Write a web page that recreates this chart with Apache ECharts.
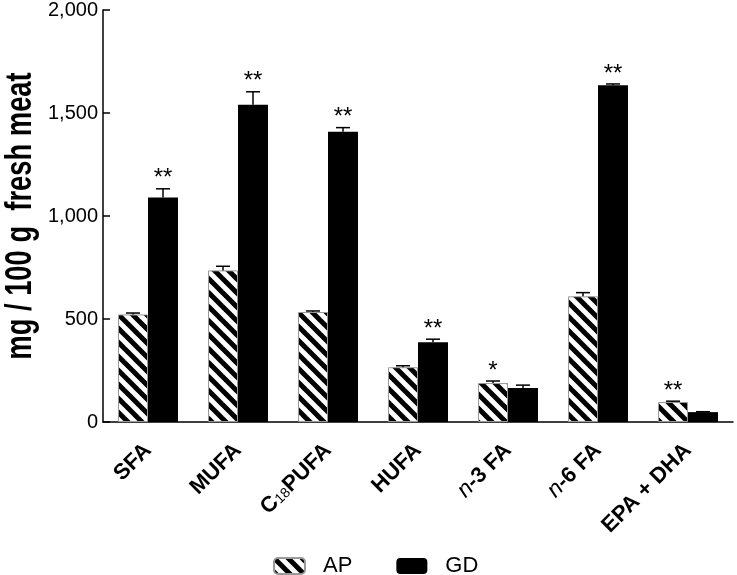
<!DOCTYPE html>
<html>
<head>
<meta charset="utf-8">
<script src="https://cdn.jsdelivr.net/npm/echarts@6/dist/echarts.min.js"></script>
<style>
html,body{margin:0;padding:0;background:#fff;}
#chart{width:737px;height:575px;}
</style>
</head>
<body>
<div id="chart"></div>
<script>
var categories = ['SFA', 'MUFA', 'C18PUFA', 'HUFA', 'n-3 FA', 'n-6 FA', 'EPA + DHA'];
var apValues = [522, 736, 534, 266, 189, 610, 97];
var apErrors = [7, 20, 5, 7, 10, 18, 4];
var gdValues = [1090, 1540, 1409, 387, 165, 1635, 48];
var gdErrors = [42, 63, 20, 15, 14, 6, 2];
var apSig = ['', '', '', '', '*', '', '**'];
var gdSig = ['**', '**', '**', '**', '', '**', ''];
var yTicks = [0, 500, 1000, 1500, 2000];
var seriesNames = ['AP', 'GD'];
var yTitle = 'mg / 100 g  fresh meat';

var FONT = '"Liberation Sans", Arial, sans-serif';

function makeHatch() {
  var s = 14;
  var c = document.createElement('canvas');
  c.width = s; c.height = s;
  var ctx = c.getContext('2d');
  ctx.fillStyle = '#fff';
  ctx.fillRect(0, 0, s, s);
  ctx.strokeStyle = '#000';
  ctx.lineWidth = 5;
  for (var k = -2; k <= 2; k++) {
    ctx.beginPath();
    ctx.moveTo(-s, -s + k * s);
    ctx.lineTo(2 * s, 2 * s + k * s);
    ctx.stroke();
  }
  return c;
}
var hatch = makeHatch();

var BAR_W = 30;

function errSeries(values, errors, sig, offset) {
  var data = values.map(function (v, i) { return [i, v, errors[i], sig[i]]; });
  return {
    type: 'custom',
    silent: true,
    z: 5,
    data: data,
    renderItem: function (params, api) {
      var idx = api.value(0);
      var v = api.value(1);
      var e = api.value(2);
      var s = data[params.dataIndex][3];
      var base = api.coord([idx, v]);
      var top = api.coord([idx, v + e]);
      var x = base[0] + offset;
      var cap = 7;
      var children = [
        { type: 'line', shape: { x1: x, y1: base[1], x2: x, y2: top[1] }, style: { stroke: '#000', lineWidth: 1.5 } },
        { type: 'line', shape: { x1: x - cap, y1: top[1], x2: x + cap, y2: top[1] }, style: { stroke: '#000', lineWidth: 1.5 } }
      ];
      if (s) {
        children.push({
          type: 'text',
          style: {
            text: s, x: x, y: top[1] + 2,
            align: 'center', verticalAlign: 'bottom',
            font: '24px ' + FONT, fill: '#000'
          }
        });
      }
      return { type: 'group', children: children };
    }
  };
}

var labelRich = {
  b: { fontFamily: FONT, fontWeight: 'bold', fontSize: 22, color: '#000' },
  s: { fontFamily: FONT, fontWeight: 'normal', fontSize: 14, color: '#000', padding: [6, 0, 0, 0] },
  i: { fontFamily: FONT, fontStyle: 'italic', fontWeight: 'normal', fontSize: 23, color: '#000' }
};

function fmtCat(c) {
  if (c === 'C18PUFA') return '{b|C}{s|18}{b|PUFA}';
  var m = c.match(/^n(-\d FA)$/);
  if (m) return '{i|n}{b|' + m[1] + '}';
  return '{b|' + c + '}';
}

var chart = echarts.init(document.getElementById('chart'), null, { renderer: 'canvas' });
chart.setOption({
  animation: false,
  backgroundColor: '#fff',
  textStyle: { fontFamily: FONT },
  grid: { left: 103, right: 4, top: 9, bottom: 153, containLabel: false },
  graphic: [{
    type: 'text',
    x: 21, y: 216,
    rotation: Math.PI / 2,
    scaleX: 0.76,
    silent: true,
    style: {
      text: yTitle,
      font: 'bold 36px ' + FONT,
      fill: '#000',
      align: 'center', verticalAlign: 'middle'
    }
  }],
  legend: {
    data: seriesNames,
    left: 273, top: 555, padding: 0,
    itemWidth: 31, itemHeight: 16, itemGap: 44,
    textStyle: { fontFamily: FONT, fontSize: 22, color: '#000', padding: [0, 0, 0, 13] },
    selectedMode: false
  },
  xAxis: {
    type: 'category',
    data: categories,
    axisLine: { lineStyle: { color: '#000', width: 1.5 } },
    axisTick: { show: false },
    axisLabel: {
      rotate: 45, interval: 0, margin: 25,
      formatter: function (v) { return fmtCat(v); },
      rich: labelRich
    }
  },
  yAxis: {
    type: 'value',
    min: yTicks[0], max: yTicks[yTicks.length - 1], interval: 500,
    axisLine: { show: true, lineStyle: { color: '#000', width: 1.5 } },
    axisTick: { show: true, inside: true, length: 7, lineStyle: { color: '#000', width: 1.5 } },
    axisLabel: {
      margin: 5, fontFamily: FONT, fontSize: 20, color: '#000',
      formatter: function (v) { return v.toLocaleString('en-US'); }
    },
    splitLine: { show: false }
  },
  series: [
    {
      name: seriesNames[0], type: 'bar', data: apValues,
      barWidth: BAR_W, barGap: '0%',
      itemStyle: { color: { image: hatch, repeat: 'repeat' }, borderColor: '#999', borderWidth: 1 }
    },
    {
      name: seriesNames[1], type: 'bar', data: gdValues,
      barWidth: BAR_W, barGap: '0%',
      itemStyle: { color: '#000', borderColor: '#000', borderWidth: 0 }
    },
    errSeries(apValues, apErrors, apSig, -BAR_W / 2),
    errSeries(gdValues, gdErrors, gdSig, BAR_W / 2)
  ]
});
</script>
</body>
</html>
